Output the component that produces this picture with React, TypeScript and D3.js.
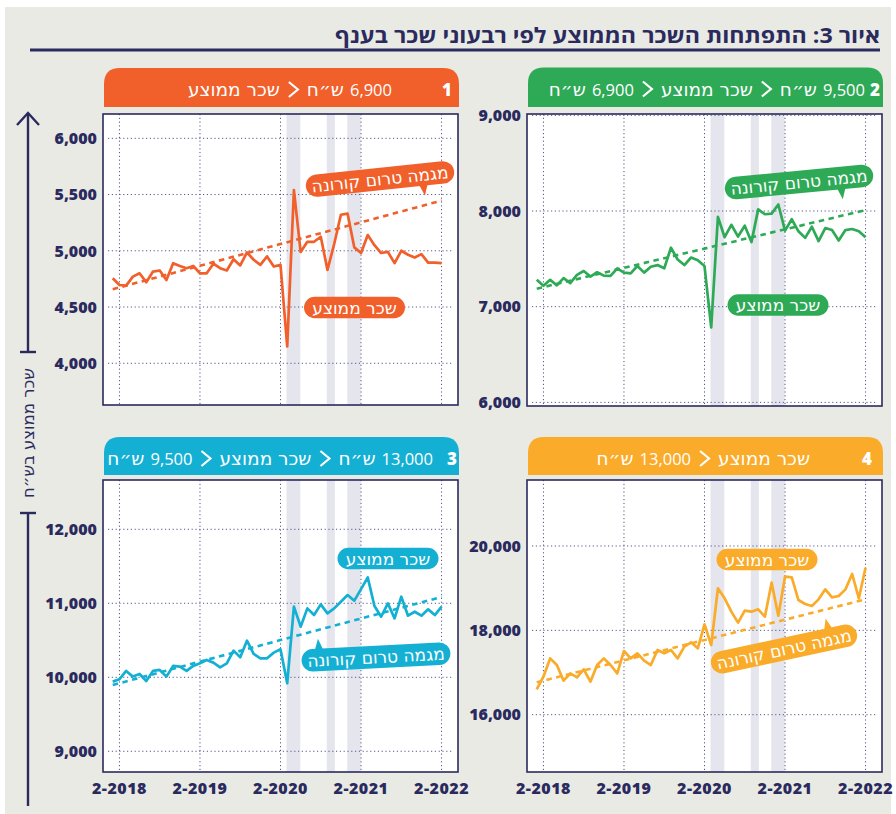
import React, { useEffect, useRef } from "react";
import { scaleLinear, line, select } from "d3";

// months counted from 2-2018 (= 0); first point is 1-2018
const firstMonth = -1;
const xTickMonths = [0, 12, 24, 36, 48];
const xTickLabels = ["2-2018", "2-2019", "2-2020", "2-2021", "2-2022"];
// closure periods (shaded), in months from 2-2018
const lockdowns = [
  [24.9, 26.95],
  [30.9, 32.1],
  [33.95, 35.95],
];
const trendMonths = [-1, 48];

const wageQ1 = [4756, 4696, 4690, 4770, 4800, 4720, 4815, 4825, 4740, 4890, 4865, 4845, 4865, 4800, 4800, 4885, 4845, 4825, 4925, 4870, 4985, 4920, 4875, 4950, 4860, 4875, 4150, 5540, 4990, 5080, 5080, 5125, 4830, 5060, 5320, 5330, 5030, 4980, 5140, 5050, 4980, 4990, 4890, 5000, 4965, 4940, 4970, 4895, 4895, 4890];
const wageQ2 = [7281, 7219, 7281, 7223, 7298, 7247, 7332, 7373, 7315, 7360, 7325, 7322, 7401, 7356, 7349, 7425, 7356, 7418, 7435, 7401, 7616, 7493, 7435, 7514, 7486, 7425, 6784, 7938, 7726, 7856, 7733, 7846, 7675, 8017, 7966, 7973, 8068, 7795, 7914, 7788, 7719, 7836, 7685, 7822, 7801, 7692, 7801, 7812, 7788, 7726];
const wageQ3 = [9941, 9973, 10086, 10009, 10045, 9950, 10086, 10099, 10009, 10153, 10144, 10086, 10153, 10189, 10234, 10198, 10135, 10189, 10360, 10270, 10495, 10315, 10256, 10256, 10333, 10378, 9919, 10954, 10684, 10931, 10841, 10985, 10864, 10931, 11021, 11111, 11035, 11192, 11350, 10963, 10819, 10999, 10796, 11089, 10832, 10886, 10832, 10918, 10841, 10954];
const wageQ4 = [16601, 16901, 17336, 17178, 16806, 16980, 16885, 17075, 16783, 17178, 17336, 17178, 16980, 17510, 17336, 17455, 17281, 17178, 17534, 17455, 17534, 17336, 17613, 17715, 17573, 18142, 17652, 18996, 18759, 18443, 18182, 18466, 18443, 18498, 18324, 19130, 18348, 19273, 19257, 18719, 18625, 18577, 18735, 18972, 18783, 18814, 18972, 19336, 18759, 19486];

const trendQ1 = [4658, 5446];
const trendQ2 = [7188, 8010];
const trendQ3 = [9896, 11085];
const trendQ4 = [16767, 18735];

const ticksQ1 = [4000, 4500, 5000, 5500, 6000];
const ticksQ2 = [6000, 7000, 8000, 9000];
const ticksQ3 = [9000, 10000, 11000, 12000];
const ticksQ4 = [16000, 18000, 20000];

const title = "איור 3: התפתחות השכר הממוצע לפי רבעוני שכר בענף";
const axisTitle = "שכר ממוצע בש״ח";
const wageLabel = "שכר ממוצע";
const trendLabel = "מגמה טרום קורונה";
const NIS = "ש״ח";

const FONT = "'Open Sans', 'DejaVu Sans', sans-serif";
const HEB = "'DejaVu Sans', 'Open Sans', sans-serif";
const NAVY = "#2b2a5e";

const panels = [
  {
    num: "1", color: "#f15f2a", data: wageQ1, trend: trendQ1, ticks: ticksQ1,
    domain: [3629, 6216], fx: 103, fy: 114, fh: 291, hy: 68, hh: 39,
    numX: 452, textX: 392, pieces: ["6,900", NIS, ">", wageLabel],
    wage: { cx: 354.5, cy: 307.5 }, tr: { cx: 380, cy: 179, rot: -6, tipX: 43, down: true },
    xLabels: false,
  },
  {
    num: "2", color: "#2eaa57", data: wageQ2, trend: trendQ2, ticks: ticksQ2,
    domain: [5962, 9014], fx: 527, fy: 114, fh: 292, hy: 67.5, hh: 39.5,
    numX: 880, textX: 865, pieces: ["9,500", NIS, ">", wageLabel, ">", "6,900", NIS],
    wage: { cx: 778, cy: 305 }, tr: { cx: 799, cy: 182, rot: -5.5, tipX: 42, down: true },
    xLabels: false,
  },
  {
    num: "3", color: "#14b0d4", data: wageQ3, trend: trendQ3, ticks: ticksQ3,
    domain: [8720, 12666], fx: 103, fy: 480, fh: 292, hy: 437, hh: 38,
    numX: 457, textX: 433, pieces: ["13,000", NIS, ">", wageLabel, ">", "9,500", NIS],
    wage: { cx: 388, cy: 558.5 }, tr: { cx: 376, cy: 657, rot: -3, tipX: -57, down: false },
    xLabels: true,
  },
  {
    num: "4", color: "#f9ab29", data: wageQ4, trend: trendQ4, ticks: ticksQ4,
    domain: [14641, 21565], fx: 527, fy: 480, fh: 292, hy: 437, hh: 38,
    numX: 872, textX: 810, pieces: [wageLabel, ">", "13,000", NIS],
    wage: { cx: 767, cy: 559.5 }, tr: { cx: 784, cy: 649, rot: -12, tipX: 47, down: false },
    xLabels: true,
  },
];

const FW = 355;
const isHeb = (s: string) => /[\u0590-\u05FF]/.test(s);

function Header({ p }: any) {
  const ref = useRef<SVGGElement>(null);
  useEffect(() => {
    const g = select(ref.current);
    g.selectAll("*").remove();
    const x0 = p.fx + 1, x1 = p.fx + FW + 1, y0 = p.hy, y1 = p.hy + p.hh, r = 16;
    g.append("path")
      .attr("d", `M${x0},${y1}V${y0 + r}Q${x0},${y0} ${x0 + r},${y0}H${x1 - r}Q${x1},${y0} ${x1},${y0 + r}V${y1}Z`)
      .attr("fill", p.color);
    const base = p.hy + 28;
    g.append("text").attr("x", p.numX).attr("y", base).attr("text-anchor", "end")
      .attr("font-family", FONT).attr("font-weight", 800).attr("font-size", 17)
      .attr("fill", "#fff").text(p.num);
    let x = p.textX;
    p.pieces.forEach((s: string, i: number) => {
      const next = p.pieces[i + 1];
      if (s === ">") {
        const cw = 9;
        g.append("path")
          .attr("d", `M${x - cw},${base - 14}L${x},${base - 6.5}L${x - cw},${base + 1}`)
          .attr("fill", "none").attr("stroke", "#fff").attr("stroke-width", 2.2);
        x -= cw + 9;
      } else {
        const t = g.append("text").attr("x", x).attr("y", base).attr("text-anchor", "end")
          .attr("font-family", isHeb(s) ? HEB : FONT)
          .attr("font-size", isHeb(s) ? 18.5 : 16.5).attr("fill", "#fff").text(s);
        const w = (t.node() as SVGTextElement).getComputedTextLength();
        x -= w + (next === ">" ? 9 : 6);
      }
    });
  }, [p]);
  return <g ref={ref} />;
}

function Pill({ cx, cy, rot = 0, w, h, color, text, tipX, down }: any) {
  return (
    <g transform={`translate(${cx},${cy}) rotate(${rot})`}>
      {tipX !== undefined && (
        <polygon
          points={down
            ? `${tipX - 5},${h / 2 - 2} ${tipX + 4},${h / 2 - 2} ${tipX},${h / 2 + 10}`
            : `${tipX - 4},${-h / 2 + 2} ${tipX + 5},${-h / 2 + 2} ${tipX},${-h / 2 - 10}`}
          fill={color}
        />
      )}
      <rect x={-w / 2} y={-h / 2} width={w} height={h} rx={h / 2} fill={color} />
      <text y={0} dy="0.37em" textAnchor="middle" fill="#fff" fontSize={17} fontFamily={HEB}>
        {text}
      </text>
    </g>
  );
}

function Panel({ p }: any) {
  const x = scaleLinear().domain([-2.45, 50.45]).range([p.fx, p.fx + FW]);
  const y = scaleLinear().domain(p.domain).range([p.fy + p.fh, p.fy]);
  const path = line<number>().x((_, i) => x(i + firstMonth)).y((d) => y(d));
  const trendPath = line<number>().x((_, i) => x(trendMonths[i])).y((d) => y(d));
  const right = p.fx - 6;
  return (
    <g>
      <Header p={p} />
      <rect x={p.fx} y={p.fy} width={FW} height={p.fh} fill="#fff" />
      {lockdowns.map(([a, b], i) => (
        <rect key={i} x={x(a)} y={p.fy} width={x(b) - x(a)} height={p.fh} fill="#e5e5ed" />
      ))}
      {xTickMonths.map((m) => (
        <line key={m} x1={x(m)} x2={x(m)} y1={p.fy} y2={p.fy + p.fh}
          stroke="#56568a" strokeWidth={1} strokeDasharray="1.2 2.6" />
      ))}
      {p.ticks.map((t: number) => (
        <line key={t} x1={p.fx + 5} x2={p.fx + FW - 5} y1={y(t)} y2={y(t)}
          stroke="#56568a" strokeWidth={1} strokeDasharray="1.2 2.6" />
      ))}
      <rect x={p.fx} y={p.fy} width={FW} height={p.fh} fill="none" stroke={NAVY} strokeWidth={1.6} />
      <path d={trendPath(p.trend) as string} fill="none" stroke={p.color} strokeWidth={2.6} strokeDasharray="5.5 4.5" />
      <path d={path(p.data) as string} fill="none" stroke={p.color} strokeWidth={2.7} strokeLinejoin="round" />
      {p.ticks.map((t: number) => (
        <text key={t} x={right} y={y(t)} dy="0.36em" textAnchor="end" fontFamily={FONT}
          fontWeight={800} fontSize={16} fill={NAVY}>
          {t.toLocaleString("en-US")}
        </text>
      ))}
      {p.xLabels && xTickMonths.map((m, i) => (
        <text key={m} x={x(m)} y={794} textAnchor="middle" fontFamily={FONT}
          fontWeight={800} fontSize={16} letterSpacing={0.5} fill={NAVY}>
          {xTickLabels[i]}
        </text>
      ))}
      <Pill cx={p.wage.cx} cy={p.wage.cy} w={101} h={21.5} color={p.color} text={wageLabel} />
      <Pill cx={p.tr.cx} cy={p.tr.cy} rot={p.tr.rot} w={149} h={22.5} color={p.color}
        text={trendLabel} tipX={p.tr.tipX} down={p.tr.down} />
    </g>
  );
}

export default function App() {
  return (
    <svg width={896} height={814} style={{ position: "absolute", left: 0, top: 0 }}>
      <rect x={5} y={7} width={886} height={807} fill="#e8eae3" />
      <text x={880} y={43} textAnchor="end" fontFamily={FONT} fontWeight={700}
        fontSize={21} fill={NAVY} textLength={545} lengthAdjust="spacingAndGlyphs">
        {title}
      </text>
      <line x1={30} x2={880} y1={50} y2={50} stroke={NAVY} strokeWidth={3.2} />
      {/* left axis */}
      <g stroke={NAVY} strokeWidth={2.4} fill="none">
        <path d="M17,125L28,113L39,125" />
        <line x1={28} x2={28} y1={113} y2={352} />
        <line x1={20} x2={36} y1={352} y2={352} />
        <line x1={20} x2={36} y1={513} y2={513} />
        <line x1={28} x2={28} y1={513} y2={806} />
      </g>
      <text transform="translate(28,433) rotate(-90)" dy="0.36em" textAnchor="middle"
        fontFamily={HEB} fontSize={16.5} fill={NAVY}>
        {axisTitle}
      </text>
      {panels.map((p) => (
        <Panel key={p.num} p={p} />
      ))}
    </svg>
  );
}
